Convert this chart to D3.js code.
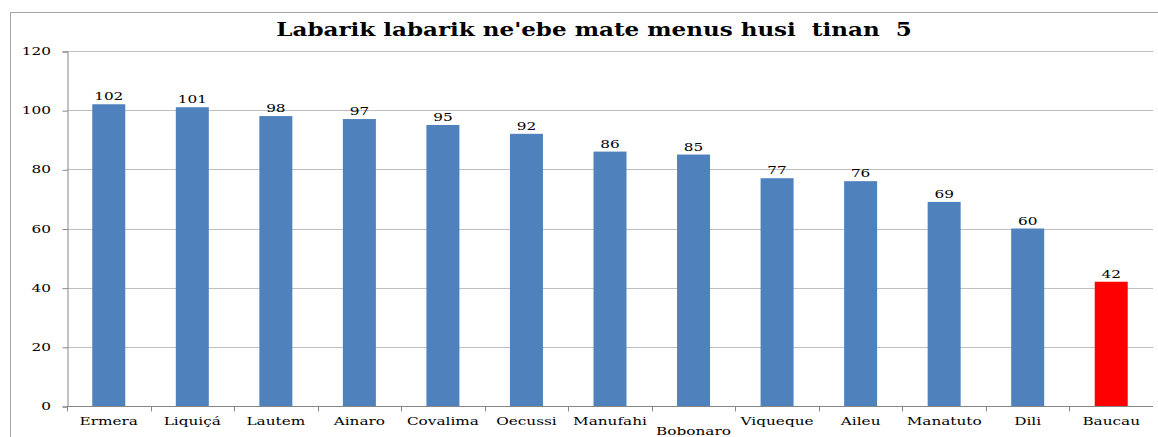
<!DOCTYPE html>
<html>
<head>
<meta charset="utf-8">
<script src="https://cdn.jsdelivr.net/npm/d3@7"></script>
<style>
  body { margin: 0; background: #fff; }
  text { font-family: "DejaVu Serif", serif; }
</style>
</head>
<body>
<script>
var districts = ["Ermera", "Liquiçá", "Lautem", "Ainaro", "Covalima", "Oecussi", "Manufahi",
                 "Bobonaro", "Viqueque", "Aileu", "Manatuto", "Dili", "Baucau"];
var deaths = [102, 101, 98, 97, 95, 92, 86, 85, 77, 76, 69, 60, 42];
var yTicks = [0, 20, 40, 60, 80, 100, 120];
var title = "Labarik labarik ne'ebe mate menus husi  tinan  5";

var width = 1158, height = 437;
var margin = {top: 51, right: 5, bottom: 31, left: 67};
var stretch = 1.33; // the original's serif is much wider than DejaVu

var svg = d3.select("body").append("svg")
    .attr("width", width)
    .attr("height", height);

// put a text at (px,py), widened horizontally
function wideText(g, px, py, sx) {
    return g.append("text")
        .attr("transform", "translate(" + px + "," + py + ") scale(" + sx + ",1)");
}

// outer chart frame (runs off the right and bottom edges)
svg.append("rect")
    .attr("x", 10.5).attr("y", 12.5)
    .attr("width", width + 20).attr("height", height + 20)
    .attr("fill", "none")
    .attr("stroke", "#a6a6a6");

wideText(svg, 594, 36, 1.28)
    .attr("text-anchor", "middle")
    .attr("font-weight", "bold")
    .attr("font-size", 18)
    .style("white-space", "pre")
    .text(title);

var x = d3.scaleBand()
    .domain(districts)
    .range([margin.left, width - margin.right]);

var y = d3.scaleLinear()
    .domain([0, 120])
    .range([height - margin.bottom, margin.top]);

// gridlines
svg.append("g")
    .selectAll("line")
    .data(yTicks.slice(1))
    .enter().append("line")
    .attr("x1", margin.left).attr("x2", width - margin.right)
    .attr("y1", d => Math.round(y(d)) + 0.5)
    .attr("y2", d => Math.round(y(d)) + 0.5)
    .attr("stroke", "#bfbfbf");

// y axis
var yAxis = svg.append("g")
    .attr("transform", "translate(" + (margin.left + 0.5) + ",0.5)")
    .call(d3.axisLeft(y).tickValues(yTicks).tickSize(5).tickFormat(""));
yAxis.select(".domain").attr("stroke", "#868686");
yAxis.selectAll(".tick line").attr("stroke", "#868686");

yTicks.forEach(function(t) {
    wideText(svg, 51, y(t) + 4, stretch)
        .attr("text-anchor", "end")
        .attr("font-size", 11.5)
        .text(t);
});

// bars
svg.append("g")
    .selectAll("rect")
    .data(deaths)
    .enter().append("rect")
    .attr("x", (d, i) => x(districts[i]) + x.bandwidth() / 2 - 16.5)
    .attr("width", 33)
    .attr("y", d => y(d))
    .attr("height", d => y(0) - y(d))
    .attr("fill", (d, i) => districts[i] === "Baucau" ? "#ff0000" : "#4f81bd");

// value labels
deaths.forEach(function(d, i) {
    wideText(svg, x(districts[i]) + x.bandwidth() / 2, y(d) - 4, stretch)
        .attr("text-anchor", "middle")
        .attr("font-size", 11.5)
        .text(d);
});

// x axis
var base = Math.round(y(0)) + 0.5;
svg.append("line")
    .attr("x1", margin.left).attr("x2", width - margin.right)
    .attr("y1", base).attr("y2", base)
    .attr("stroke", "#868686");
svg.append("g")
    .selectAll("line")
    .data(districts)
    .enter().append("line")
    .attr("x1", d => Math.round(x(d)) + 0.5)
    .attr("x2", d => Math.round(x(d)) + 0.5)
    .attr("y1", base).attr("y2", base + 5)
    .attr("stroke", "#868686");

// Bobonaro is too wide for its slot, so it drops to a second row
districts.forEach(function(d) {
    wideText(svg, x(d) + x.bandwidth() / 2, base + (d === "Bobonaro" ? 28 : 18), stretch)
        .attr("text-anchor", "middle")
        .attr("font-size", 11.5)
        .text(d);
});
</script>
</body>
</html>
